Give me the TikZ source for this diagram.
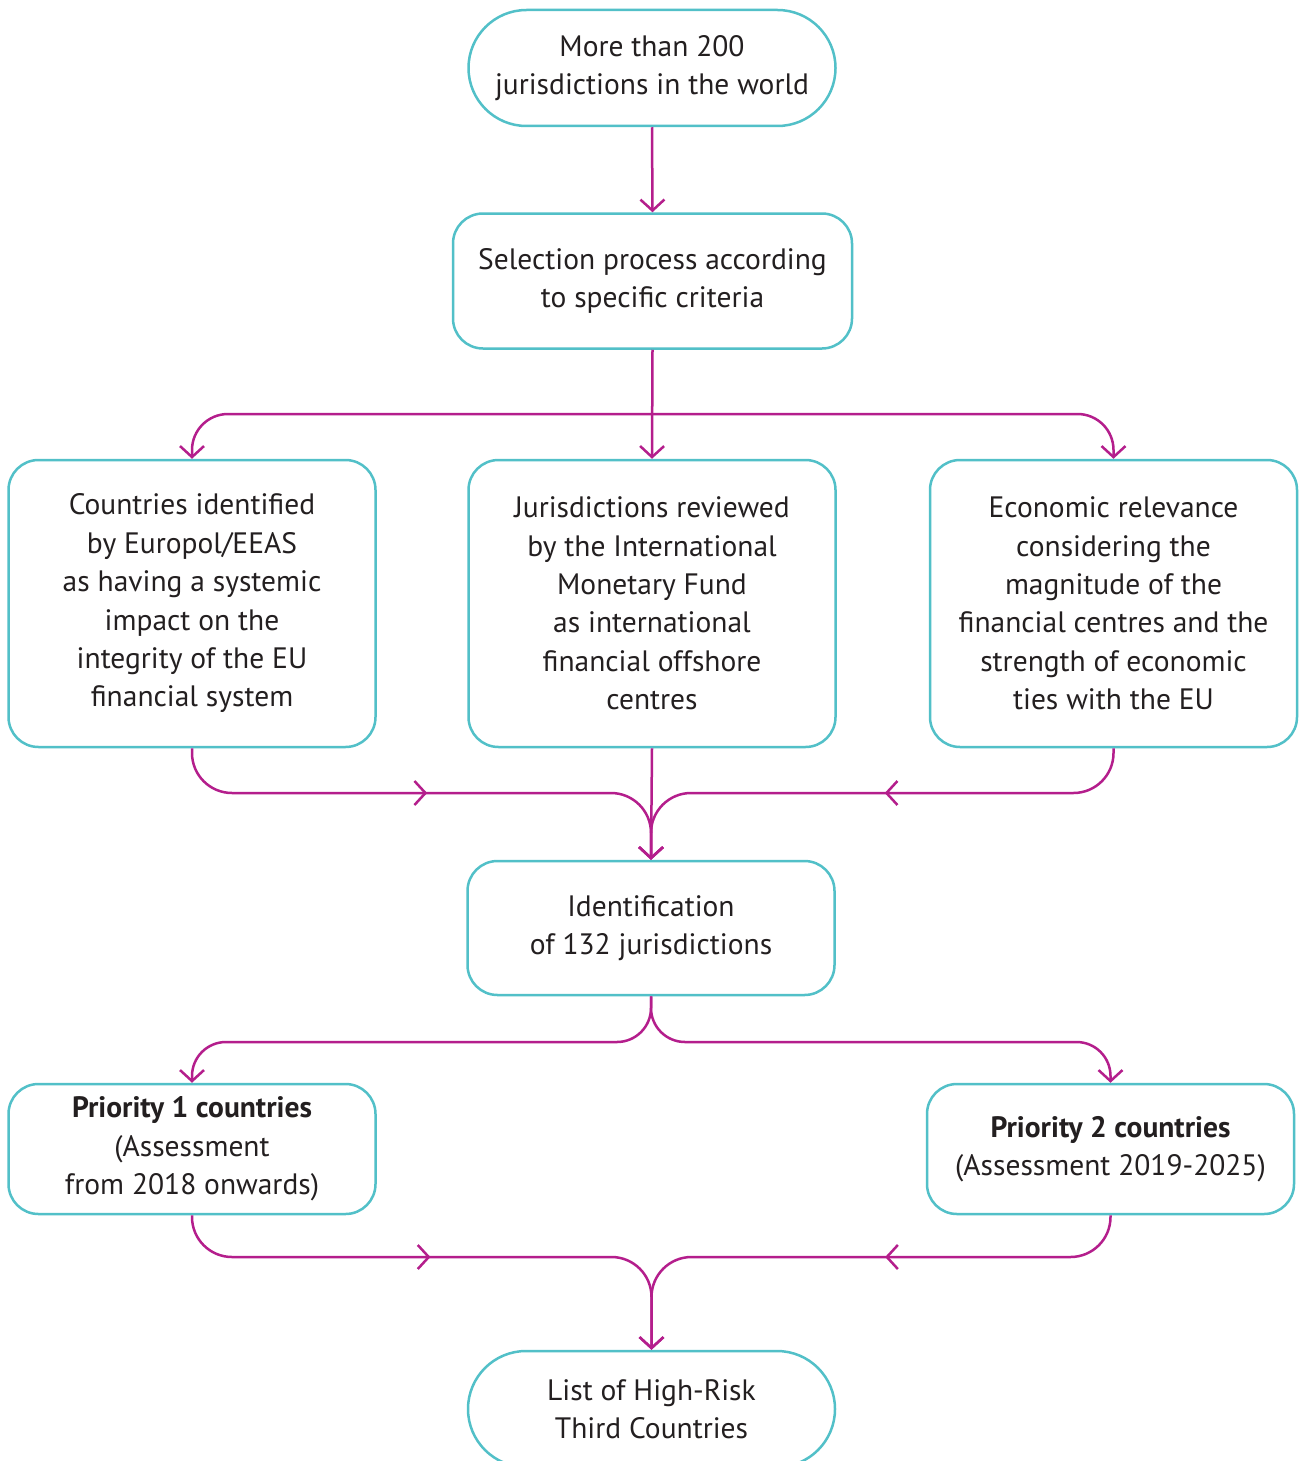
\documentclass[tikz,border=0pt]{standalone}
\usepackage{fontspec}
\setmainfont{PT Sans}
\usetikzlibrary{arrows.meta,decorations.markings}
\definecolor{boxc}{RGB}{82,192,200}
\definecolor{flowc}{RGB}{180,30,140}
\definecolor{txt}{RGB}{35,31,32}
\begin{document}
\begin{tikzpicture}[x=1pt,y=-1pt,
  box/.style={draw=boxc, line width=2.5pt, rounded corners=30pt, align=center, text=txt,
    font=\fontsize{29.5}{38.4}\selectfont, inner sep=0pt, minimum width=367pt},
  pill/.style={box, rounded corners=58pt},
  flow/.style={draw=flowc, line width=2.5pt, -{Straight Barb[length=11pt,width=24pt]}},
  midarrow/.style={postaction={decorate}, decoration={markings,
    mark=at position #1 with {\arrow[flowc, line width=2.5pt]{Straight Barb[length=11pt,width=24pt]}}}}
]
\useasboundingbox (0,0) rectangle (1300,1461);
\clip (0,0) rectangle (1300,1461);
\fill[white] (0,0) rectangle (1300,1461);

\node[pill, minimum height=116pt] (top) at (652,68) {More than 200\\jurisdictions in the world};
\node[box, minimum width=399pt, minimum height=135pt] (sel) at (652.5,281) {Selection process according\\to specific criteria};
\node[box, minimum height=287pt] (b1) at (192,603.5) {Countries identified\\by Europol/EEAS\\as having a systemic\\impact on the\\integrity of the EU\\financial system};
\node[box, minimum height=287pt] (b2) at (652,603.5) {Jurisdictions reviewed\\by the International\\Monetary Fund\\as international\\financial offshore\\centres};
\node[box, minimum height=287pt] (b3) at (1113.5,603.5) {Economic relevance\\considering the\\magnitude of the\\financial centres and the\\strength of economic\\ties with the EU};
\node[box, minimum height=134pt] (idn) at (651,928) {Identification\\of 132 jurisdictions};
\node[box, minimum height=130pt] (p1) at (192,1149) {\textbf{Priority 1 countries}\\(Assessment\\from 2018 onwards)};
\node[box, minimum height=130pt] (p2) at (1110.5,1149) {\textbf{Priority 2 countries}\\(Assessment 2019-2025)};
\node[pill, minimum height=116pt] (fin) at (651.5,1409) {List of High-Risk\\Third Countries};

\coordinate (s1) at (652,414);
\coordinate (m1) at (651,793);
\coordinate (s2) at (651,1042);
\coordinate (m2) at (651.5,1257);

\draw[flow] (top.south) -- (sel.north);
\draw[flow] (sel.south) -- (b2.north);
\draw[flow, rounded corners=36pt] (s1) -| (b1.north);
\draw[flow, rounded corners=36pt] (s1) -| (b3.north);

\draw[flow] (b2.south) -- (idn.north);
\draw[flow, rounded corners=40pt, midarrow=0.49] (b1.south) |- (m1) -- (idn.north);
\draw[flow, rounded corners=40pt, midarrow=0.475] (b3.south) |- (m1) -- (idn.north);

\draw[flow, rounded corners=34pt] (idn.south) -- (idn.south |- s2) -| (p1.north);
\draw[flow, rounded corners=34pt] (idn.south) -- (idn.south |- s2) -| (p2.north);

\draw[flow, rounded corners=40pt, midarrow=0.47] (p1.south) |- (m2) -- (fin.north);
\draw[flow, rounded corners=40pt, midarrow=0.447] (p2.south) |- (m2) -- (fin.north);
\end{tikzpicture}
\end{document}
